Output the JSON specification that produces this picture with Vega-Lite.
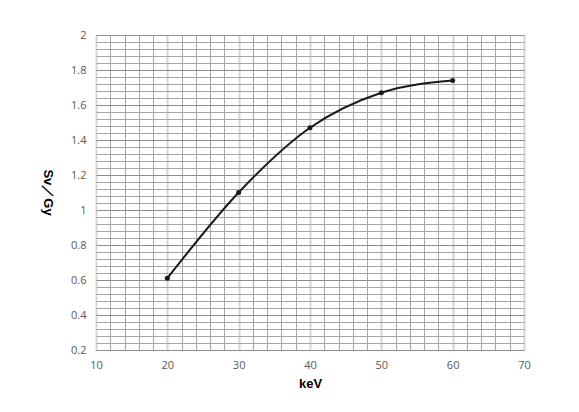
{
  "$schema": "https://vega.github.io/schema/vega-lite/v6.json",
  "width": 428,
  "height": 315,
  "autosize": {"type": "none"},
  "padding": {"left": 96, "top": 35, "right": 55, "bottom": 62},
  "background": "white",
  "config": {
    "view": {"stroke": "#a6a6a6", "strokeWidth": 1},
    "font": "Liberation Sans"
  },
  "data": {
    "values": [
      {"kev": 20, "svgy": 0.61},
      {"kev": 30, "svgy": 1.10},
      {"kev": 40, "svgy": 1.47},
      {"kev": 50, "svgy": 1.67},
      {"kev": 60, "svgy": 1.74}
    ]
  },
  "resolve": {"axis": {"x": "independent", "y": "independent"}},
  "layer": [
    {
      "mark": {"type": "rule", "opacity": 0},
      "encoding": {
        "x": {
          "field": "kev", "type": "quantitative",
          "scale": {"domain": [10, 70], "nice": false, "zero": false},
          "axis": {
            "orient": "bottom",
            "values": [12, 14, 16, 18, 22, 24, 26, 28, 32, 34, 36, 38, 42, 44, 46, 48, 52, 54, 56, 58, 62, 64, 66, 68],
            "grid": true, "gridColor": "#a6a6a6", "gridWidth": 1,
            "domain": false, "ticks": false, "labels": false, "title": null
          }
        },
        "y": {
          "field": "svgy", "type": "quantitative",
          "scale": {"domain": [0.2, 2], "nice": false, "zero": false},
          "axis": {
            "orient": "left",
            "values": [0.24, 0.28, 0.32, 0.36, 0.44, 0.48, 0.52, 0.56, 0.64, 0.68, 0.72, 0.76, 0.84, 0.88, 0.92, 0.96, 1.04, 1.08, 1.12, 1.16, 1.24, 1.28, 1.32, 1.36, 1.44, 1.48, 1.52, 1.56, 1.64, 1.68, 1.72, 1.76, 1.84, 1.88, 1.92, 1.96],
            "grid": true, "gridColor": "#a6a6a6", "gridWidth": 1,
            "domain": false, "ticks": false, "labels": false, "title": null
          }
        }
      }
    },
    {
      "mark": {"type": "line", "interpolate": "monotone", "color": "#1a1a1a", "strokeWidth": 2},
      "encoding": {
        "x": {
          "field": "kev", "type": "quantitative",
          "scale": {"domain": [10, 70], "nice": false, "zero": false},
          "axis": {
            "orient": "bottom",
            "values": [10, 20, 30, 40, 50, 60, 70],
            "format": "d",
            "grid": true, "gridColor": "#d4d4d4", "gridWidth": 2,
            "domain": false, "ticks": false,
            "labelFont": "Open Sans", "labelFontSize": 11, "labelColor": "#595959",
            "labelPadding": 9, "labelFlush": false, "labelOverlap": false,
            "title": "keV", "titleFont": "Liberation Sans", "titleFontSize": 13, "titleFontWeight": "bold",
            "titleColor": "#000000", "titleY": 33, "titleBaseline": "middle"
          }
        },
        "y": {
          "field": "svgy", "type": "quantitative",
          "scale": {"domain": [0.2, 2], "nice": false, "zero": false},
          "axis": {
            "orient": "left",
            "values": [0.2, 0.4, 0.6, 0.8, 1, 1.2, 1.4, 1.6, 1.8, 2],
            "format": "~g",
            "grid": true, "gridColor": "#8c8c8c", "gridWidth": 1,
            "domain": false, "ticks": false,
            "labelFont": "Open Sans", "labelFontSize": 11, "labelColor": "#595959",
            "labelPadding": 10, "labelFlush": false, "labelOverlap": false,
            "title": "Sv／Gy", "titleFont": "Liberation Sans", "titleFontSize": 13, "titleFontWeight": "bold",
            "titleColor": "#000000", "titleAngle": 90, "titleX": -49, "titleY": 157,
            "titleAlign": "center", "titleBaseline": "middle"
          }
        }
      }
    },
    {
      "mark": {"type": "point", "filled": true, "color": "#1a1a1a", "size": 25, "opacity": 1},
      "encoding": {
        "x": {"field": "kev", "type": "quantitative", "axis": null},
        "y": {"field": "svgy", "type": "quantitative", "axis": null}
      }
    }
  ]
}
